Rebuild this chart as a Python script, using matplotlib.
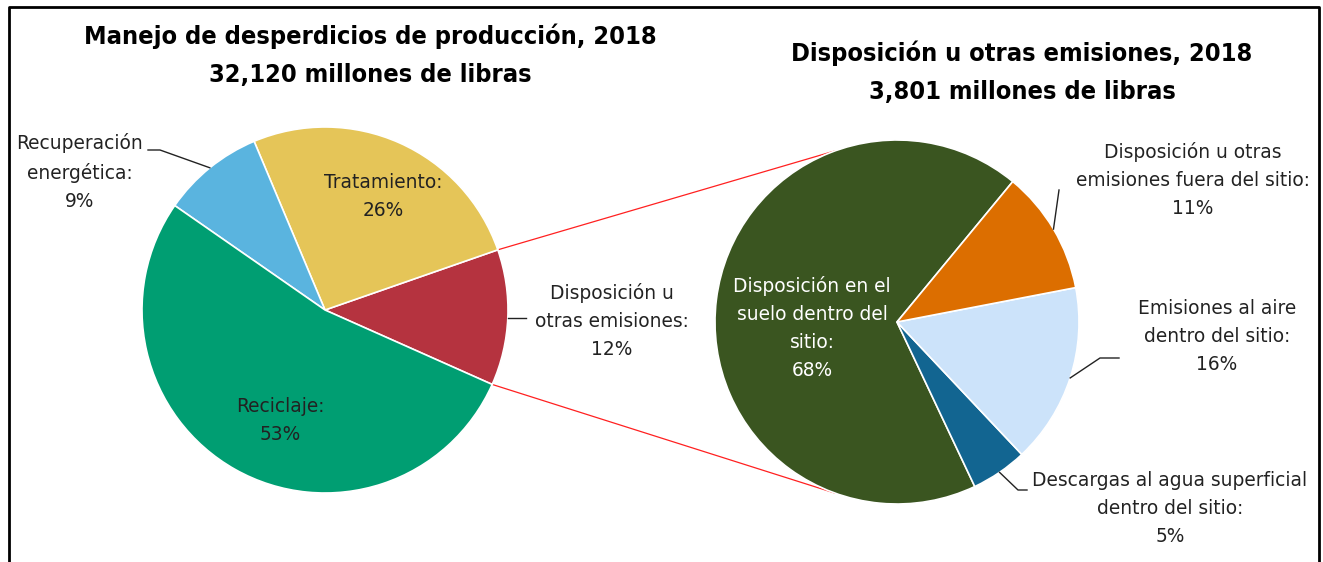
import numpy as np
import matplotlib.pyplot as plt

# left pie: production waste management, 2018
left_labels = ['Disposición u\notras emisiones:', 'Tratamiento:', 'Recuperación\nenergética:', 'Reciclaje:']
left_values = [12, 26, 9, 53]
left_colors = ['#B5333F', '#E5C558', '#5AB4DF', '#009E72']

# right pie: disposal or other releases, 2018
right_labels = ['Disposición en el\nsuelo dentro del\nsitio:', 'Descargas al agua superficial\ndentro del sitio:',
                'Emisiones al aire\ndentro del sitio:', 'Disposición u otras\nemisiones fuera del sitio:']
right_values = [68, 5, 16, 11]
right_colors = ['#3A5520', '#126591', '#CCE3FA', '#DC6E00']

W, H = 1323, 562
fig = plt.figure(figsize=(W / 100, H / 100), dpi=100)
ax = fig.add_axes([0, 0, 1, 1])


def P(x, y):
    # pixel coords (top-left origin) -> data coords
    return x, H - y


lc, lr = P(325, 310), 183
rc, rr = P(897, 322), 182

wl, _ = ax.pie(left_values, colors=left_colors, startangle=-24, center=lc, radius=lr,
               wedgeprops=dict(edgecolor='white', linewidth=1.2), frame=True)
wr, _ = ax.pie(right_values, colors=right_colors, startangle=50.5, center=rc, radius=rr,
               wedgeprops=dict(edgecolor='white', linewidth=1.2), frame=True)
ax.set_xlim(0, W)
ax.set_ylim(0, H)
ax.set_aspect('equal')
ax.axis('off')


def edge(center, r, ang):
    a = np.deg2rad(ang)
    return center[0] + r * np.cos(a), center[1] + r * np.sin(a)


def mid(w):
    return (w.theta1 + w.theta2) / 2


# red connector lines from the disposal wedge to the second pie
for th_l, th_r in [(wl[0].theta1, -110), (wl[0].theta2, 110)]:
    x0, y0 = edge(lc, lr, th_l)
    x1, y1 = edge(rc, rr, th_r)
    ax.plot([x0, x1], [y0, y1], color='#FF2020', lw=0.9, zorder=0)

lab = dict(fontsize=13.4, color='#222222', ha='center', va='center', linespacing=1.6)

# left pie labels
ax.text(*P(612, 321), left_labels[0] + '\n%d%%' % left_values[0], **lab)
x0, y0 = edge(lc, lr, mid(wl[0]))
ax.plot([x0, x0 + 18], [y0, y0], color='#222222', lw=1)

ax.text(*P(383, 196), left_labels[1] + '\n%d%%' % left_values[1], **lab)

ax.text(*P(80, 172), left_labels[2] + '\n%d%%' % left_values[2], **lab)
x0, y0 = edge(lc, lr, mid(wl[2]))
ax.plot([x0, 160, 148], [y0, H - 150, H - 150], color='#222222', lw=1)

ax.text(*P(280, 420), left_labels[3] + '\n%d%%' % left_values[3], **lab)

# right pie labels
ax.text(*P(812, 328), right_labels[0] + '\n%d%%' % right_values[0], color='white',
        fontsize=13.4, ha='center', va='center', linespacing=1.6)

ax.text(*P(1170, 508), right_labels[1] + '\n%d%%' % right_values[1], **lab)
x0, y0 = edge(rc, rr, mid(wr[1]))
ax.plot([x0, 1018, 1027], [y0, H - 490, H - 490], color='#222222', lw=1)

ax.text(*P(1217, 337), right_labels[2] + '\n%d%%' % right_values[2], **lab)
x0, y0 = edge(rc, rr, mid(wr[2]))
ax.plot([x0, 1100, 1119], [y0, H - 358, H - 358], color='#222222', lw=1)

ax.text(*P(1193, 180), right_labels[3] + '\n%d%%' % right_values[3], **lab)
x0, y0 = edge(rc, rr, mid(wr[3]))
ax.plot([x0, 1059], [y0, H - 190], color='#222222', lw=1)

# titles
tt = dict(fontsize=18.2, fontweight='bold', fontstretch='condensed', color='black',
          ha='center', va='center', linespacing=1.75)
ax.text(*P(370, 55), 'Manejo de desperdicios de producción, 2018\n32,120 millones de libras', **tt)
ax.text(*P(1022, 72), 'Disposición u otras emisiones, 2018\n3,801 millones de libras', **tt)

# frame (open at the bottom)
ax.plot([8.5, 8.5, 1318.5, 1318.5], [0, H - 6.5, H - 6.5, 0], color='black', lw=2, clip_on=False)

fig.savefig('out.png', dpi=100)
